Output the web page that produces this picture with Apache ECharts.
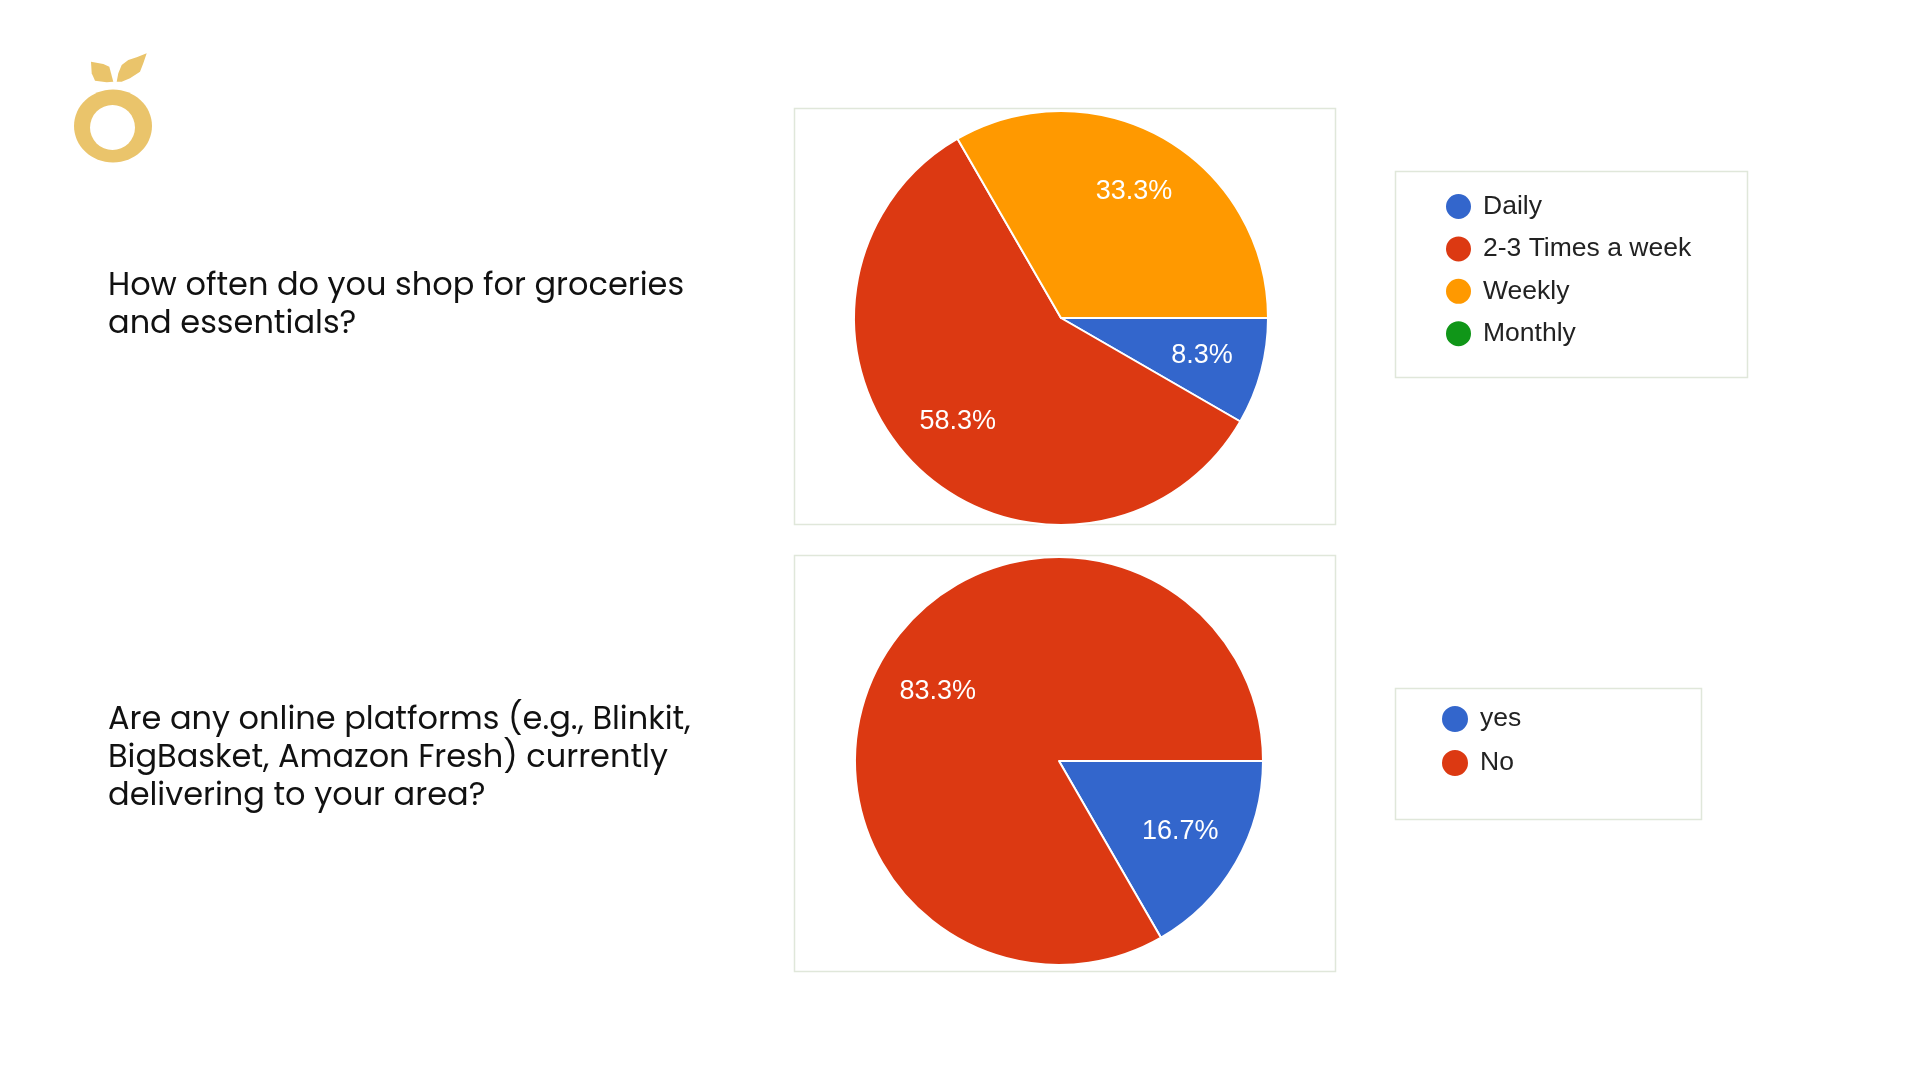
<!DOCTYPE html>
<html>
<head>
<meta charset="utf-8">
<script src="https://cdn.jsdelivr.net/npm/echarts@6/dist/echarts.min.js"></script>
<style>
html,body{margin:0;padding:0;background:#fff;}
#chart{width:1920px;height:1080px;}
</style>
</head>
<body>
<div id="chart"></div>
<script>
// ---- data ----
const freqCategories = ['Daily', '2-3 Times a week', 'Weekly', 'Monthly'];
const freqValues = [1, 7, 4, 0];
const freqColors = ['#3366CC', '#DC3912', '#FF9900', '#109618'];

const onlineCategories = ['yes', 'No'];
const onlineValues = [2, 10];
const onlineColors = ['#3366CC', '#DC3912'];

const question1 = 'How often do you shop for groceries\nand essentials?';
const question2 = 'Are any online platforms (e.g., Blinkit,\nBigBasket, Amazon Fresh) currently\ndelivering to your area?';

// ---- build ----
function pieData(cats, vals, cols) {
  return cats.map((c, i) => ({ name: c, value: vals[i], itemStyle: { color: cols[i] } }));
}
function labelData(cats, vals) {
  return cats.map((c, i) => ({ name: c, value: vals[i] }));
}
function pctFormatter(vals) {
  const total = vals.reduce((a, b) => a + b, 0);
  return p => p.value > 0 ? (p.value / total * 100).toFixed(1) + '%' : '';
}

const chart = echarts.init(document.getElementById('chart'), null, { renderer: 'canvas' });
const gold = '#EAC46B';
const boxBorder = '#E0E7DA';
const arial = '"Liberation Sans", Arial, sans-serif';

const basePie = {
  type: 'pie',
  startAngle: 0,
  clockwise: true,
  avoidLabelOverlap: false,
  silent: true,
  labelLine: { show: false },
  emphasis: { disabled: true }
};

const labelStyle = {
  show: true,
  position: 'inside',
  color: '#ffffff',
  fontSize: 27,
  fontFamily: arial,
  fontWeight: 'normal',
  textBorderWidth: 0
};

const legendText = { fontSize: 26.5, color: '#222222', fontFamily: arial, padding: [0, 0, 0, 6] };

const option = {
  backgroundColor: '#ffffff',
  animation: false,
  legend: [
    {
      data: freqCategories,
      orient: 'vertical',
      left: 1444,
      top: 192,
      icon: 'circle',
      itemWidth: 27,
      itemHeight: 27,
      itemGap: 13.4,
      padding: 0,
      selectedMode: false,
      textStyle: legendText
    },
    {
      data: onlineCategories,
      orient: 'vertical',
      left: 1440,
      top: 704,
      icon: 'circle',
      itemWidth: 28,
      itemHeight: 28,
      itemGap: 14,
      padding: 0,
      selectedMode: false,
      textStyle: legendText
    }
  ],
  graphic: [
    // chart frames
    { type: 'rect', shape: { x: 794.5, y: 108.5, width: 541, height: 416 }, style: { fill: '#fff', stroke: boxBorder, lineWidth: 1.5 }, z: -10 },
    { type: 'rect', shape: { x: 794.5, y: 555.5, width: 541, height: 416 }, style: { fill: '#fff', stroke: boxBorder, lineWidth: 1.5 }, z: -10 },
    // legend frames
    { type: 'rect', shape: { x: 1395.5, y: 171.5, width: 352, height: 206 }, style: { fill: '#fff', stroke: boxBorder, lineWidth: 1.5 }, z: -10 },
    { type: 'rect', shape: { x: 1395.5, y: 688.5, width: 306, height: 131 }, style: { fill: '#fff', stroke: boxBorder, lineWidth: 1.5 }, z: -10 },
    // questions
    { type: 'text', style: { x: 108, y: 267.5, text: question1, fontSize: 32, lineHeight: 38, fill: '#111111', fontFamily: 'Poppins, Inter, sans-serif', verticalAlign: 'top' } },
    { type: 'text', style: { x: 108, y: 701.5, text: question2, fontSize: 32, lineHeight: 38, fill: '#111111', fontFamily: 'Poppins, Inter, sans-serif', verticalAlign: 'top' } },
    // logo
    { type: 'ellipse', shape: { cx: 113, cy: 126, rx: 39, ry: 36.5 }, style: { fill: gold } },
    { type: 'circle', shape: { cx: 112.5, cy: 127.5, r: 22.5 }, style: { fill: '#ffffff' } },
    { type: 'polygon', shape: { points: [[91, 61.7], [103.3, 64], [109.3, 66.7], [113.3, 81.7], [106.7, 82.3], [95, 80.7], [91.7, 73.3]] }, style: { fill: gold } },
    { type: 'polygon', shape: { points: [[116.7, 81.7], [118.3, 73.3], [121.7, 65], [128.3, 60], [136.7, 57.3], [146.7, 53.3], [143.3, 63.3], [140, 71.7], [130, 78.3], [121.7, 81.7]] }, style: { fill: gold } }
  ],
  series: [
    Object.assign({}, basePie, {
      name: 'frequency',
      center: [1061, 318],
      radius: [0, 207],
      label: { show: false },
      itemStyle: { borderColor: '#ffffff', borderWidth: 2 },
      data: pieData(freqCategories, freqValues, freqColors)
    }),
    Object.assign({}, basePie, {
      name: 'online',
      center: [1059, 761],
      radius: [0, 204],
      label: { show: false },
      itemStyle: { borderColor: '#ffffff', borderWidth: 2 },
      data: pieData(onlineCategories, onlineValues, onlineColors)
    }),
    Object.assign({}, basePie, {
      name: 'frequencyLabels',
      center: [1061, 318],
      radius: [79, 207],
      legendHoverLink: false,
      itemStyle: { color: 'rgba(0,0,0,0)', borderWidth: 0 },
      label: Object.assign({}, labelStyle, { formatter: pctFormatter(freqValues) }),
      data: labelData(freqCategories, freqValues),
      z: 5
    }),
    Object.assign({}, basePie, {
      name: 'onlineLabels',
      center: [1059, 761],
      radius: [70, 204],
      legendHoverLink: false,
      itemStyle: { color: 'rgba(0,0,0,0)', borderWidth: 0 },
      label: Object.assign({}, labelStyle, { formatter: pctFormatter(onlineValues), offset: [0, 0.5] }),
      data: labelData(onlineCategories, onlineValues),
      z: 5
    })
  ]
};
chart.setOption(option);
</script>
</body>
</html>
